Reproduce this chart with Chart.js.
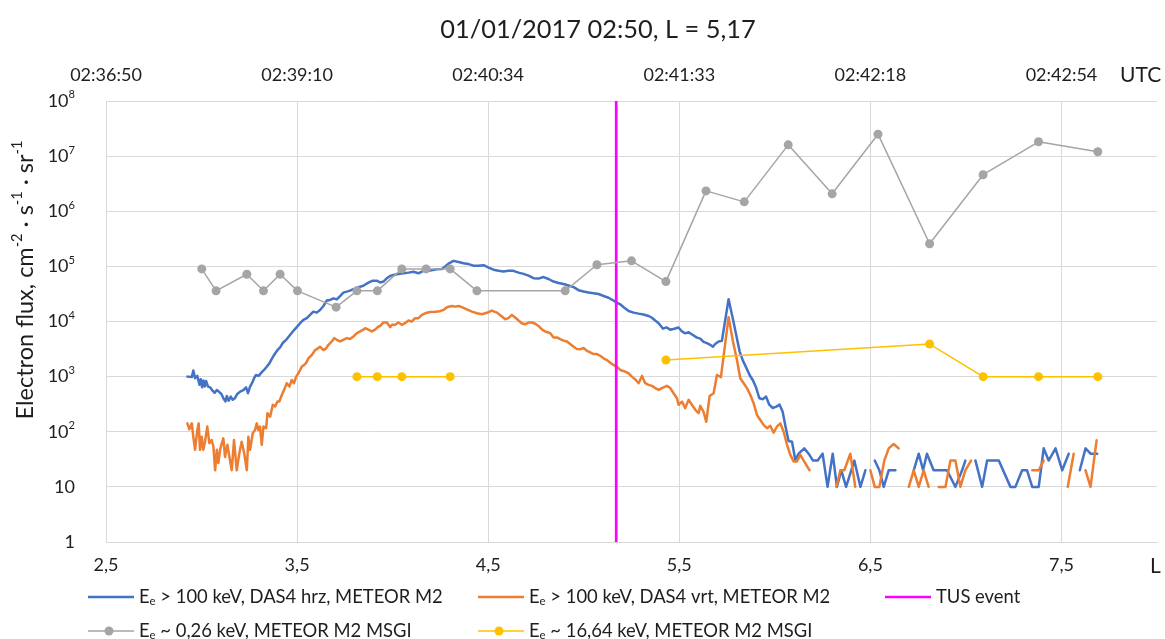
<!DOCTYPE html>
<html>
<head>
<meta charset="utf-8">
<script src="https://cdn.jsdelivr.net/npm/chart.js@4.4.1/dist/chart.umd.min.js"></script>
<style>
  html, body { margin: 0; padding: 0; background: #fff; }
  #wrap { width: 1165px; height: 639px; }
</style>
</head>
<body>
<div id="wrap"><canvas id="fluxChart" width="1165" height="639"></canvas></div>
<script>
// Electron flux along the METEOR M2 pass, 01/01/2017

const xTicks = [2.5, 3.5, 4.5, 5.5, 6.5, 7.5];
const topTimes = ['02:36:50', '02:39:10', '02:40:34', '02:41:33', '02:42:18', '02:42:54'];
const yTicks = [1, 10, 1e2, 1e3, 1e4, 1e5, 1e6, 1e7, 1e8];

// E > 100 keV, DAS4 horizontal
const blueL = [
    2.926, 2.949, 2.957, 2.966, 2.978, 2.989, 2.996, 3.003, 3.010, 3.017, 3.024, 3.034, 3.045, 3.055, 3.069, 3.080,
    3.090, 3.104, 3.114, 3.125, 3.132, 3.142, 3.153, 3.163, 3.174, 3.187, 3.202, 3.219, 3.233, 3.243, 3.254, 3.264,
    3.275, 3.285, 3.299, 3.313, 3.327, 3.341, 3.355, 3.369, 3.383, 3.397, 3.411, 3.425, 3.442, 3.463, 3.481, 3.498,
    3.516, 3.533, 3.551, 3.568, 3.585, 3.603, 3.620, 3.638, 3.655, 3.673, 3.690, 3.708, 3.725, 3.742, 3.760, 3.777,
    3.795, 3.821, 3.847, 3.873, 3.896, 3.917, 3.935, 3.952, 3.970, 3.987, 4.004, 4.030, 4.057, 4.083, 4.109, 4.135,
    4.161, 4.196, 4.231, 4.258, 4.275, 4.292, 4.319, 4.345, 4.371, 4.397, 4.423, 4.449, 4.476, 4.502, 4.528, 4.554,
    4.580, 4.606, 4.632, 4.659, 4.685, 4.711, 4.737, 4.763, 4.790, 4.816, 4.842, 4.868, 4.894, 4.920, 4.947, 4.973,
    4.999, 5.025, 5.051, 5.078, 5.104, 5.130, 5.156, 5.173, 5.191, 5.209, 5.235, 5.261, 5.287, 5.313, 5.339, 5.357,
    5.374, 5.392, 5.415, 5.432, 5.453, 5.474, 5.496, 5.514, 5.531, 5.549, 5.571, 5.593, 5.610, 5.627, 5.645, 5.662,
    5.676, 5.688, 5.706, 5.723, 5.758, 5.781, 5.798, 5.816, 5.833, 5.851, 5.868, 5.886, 5.903, 5.919, 5.938, 5.954,
    5.971, 5.988, 6.008, 6.025, 6.041, 6.058, 6.072, 6.090, 6.107, 6.125, 6.154, 6.177, 6.200, 6.224, 6.250, 6.276,
    6.303, 6.325, 6.348, 6.373, 6.416, 6.448, 6.474, 6.500, 6.523, 6.547, 6.570, 6.596, 6.631, 6.680, 6.727, 6.753,
    6.776, 6.796, 6.831, 6.901, 6.945, 6.980, 6.997, 7.030, 7.050, 7.085, 7.111, 7.172, 7.233, 7.259, 7.294, 7.320,
    7.347, 7.381, 7.407, 7.433, 7.469, 7.504, 7.538, 7.570, 7.596, 7.626, 7.652, 7.687
];
const blueFlux = [
    1000, 980, 1290, 940, 1030, 710, 900, 640, 850, 660, 830, 660, 640, 570, 510, 570,
    535, 485, 405, 355, 445, 365, 435, 380, 405, 485, 535, 570, 640, 500, 660, 760,
    935, 1070, 1030, 1180, 1320, 1510, 1740, 2150, 2570, 3020, 3390, 4070, 4630, 5700, 6800, 7900,
    9300, 10700, 11500, 13200, 15100, 14500, 16200, 19100, 24000, 24600, 26300, 25200, 29000, 33400, 34800, 36300,
    38600, 41800, 44500, 50700, 55000, 55000, 51000, 53000, 61000, 67000, 70000, 73000, 75000, 77000, 80000, 75000,
    83000, 84000, 89000, 90000, 100000, 112000, 126000, 120000, 114000, 110000, 103000, 103000, 105000, 95000, 87000, 83000,
    81000, 83000, 83000, 77000, 73000, 68000, 61000, 60000, 64000, 59000, 53000, 50000, 48000, 45000, 42000, 37000,
    35000, 33500, 32500, 31500, 29000, 27000, 24000, 22000, 20500, 18200, 15500, 14500, 13900, 13400, 12600, 11700,
    10400, 9300, 7400, 7800, 7100, 7400, 7800, 6600, 6100, 6400, 5700, 5100, 4900, 4270, 4050, 3780,
    3480, 3900, 4330, 4450, 25300, 11000, 5700, 2850, 1950, 1440, 1070, 850, 620, 405, 390, 435,
    310, 270, 285, 310, 230, 115, 68, 66, 31, 40, 50, 40, 30, 30, 40, 10,
    40, 10, 20, 10, 30, 10, 20, null, 30, 20, 10, 20, 20, null, 20, 40,
    20, 40, 20, 20, 10, 20, 30, null, 30, 10, 30, 30, 10, 10, 20, 20,
    10, 10, 50, 30, 50, 20, 40, null, 20, 50, 40, 40
];

// E > 100 keV, DAS4 vertical
const orangeL = [
    2.926, 2.936, 2.949, 2.957, 2.966, 2.978, 2.985, 2.992, 3.001, 3.009, 3.018, 3.030, 3.041, 3.053, 3.062, 3.071,
    3.080, 3.088, 3.097, 3.106, 3.114, 3.123, 3.135, 3.146, 3.158, 3.170, 3.184, 3.198, 3.210, 3.223, 3.237, 3.245,
    3.254, 3.268, 3.280, 3.289, 3.297, 3.306, 3.315, 3.324, 3.338, 3.345, 3.359, 3.373, 3.385, 3.397, 3.407, 3.420,
    3.432, 3.446, 3.460, 3.472, 3.484, 3.495, 3.507, 3.525, 3.537, 3.547, 3.559, 3.577, 3.594, 3.603, 3.620, 3.638,
    3.652, 3.664, 3.682, 3.694, 3.708, 3.725, 3.742, 3.760, 3.777, 3.795, 3.813, 3.830, 3.847, 3.856, 3.873, 3.891,
    3.908, 3.926, 3.935, 3.952, 3.970, 3.987, 3.996, 4.013, 4.030, 4.048, 4.065, 4.083, 4.100, 4.118, 4.135, 4.153,
    4.170, 4.196, 4.223, 4.249, 4.266, 4.284, 4.310, 4.327, 4.345, 4.362, 4.388, 4.415, 4.441, 4.467, 4.493, 4.519,
    4.546, 4.572, 4.589, 4.606, 4.624, 4.641, 4.659, 4.676, 4.694, 4.711, 4.729, 4.746, 4.763, 4.781, 4.798, 4.825,
    4.842, 4.860, 4.877, 4.894, 4.912, 4.929, 4.947, 4.964, 4.982, 4.999, 5.017, 5.034, 5.051, 5.069, 5.086, 5.104,
    5.121, 5.139, 5.156, 5.173, 5.191, 5.217, 5.235, 5.252, 5.270, 5.287, 5.305, 5.322, 5.339, 5.357, 5.374, 5.392,
    5.409, 5.435, 5.453, 5.470, 5.488, 5.496, 5.514, 5.531, 5.549, 5.566, 5.584, 5.601, 5.610, 5.627, 5.641, 5.659,
    5.680, 5.697, 5.718, 5.758, 5.781, 5.802, 5.819, 5.837, 5.854, 5.872, 5.889, 5.907, 5.924, 5.941, 5.959, 5.976,
    5.994, 6.011, 6.029, 6.046, 6.064, 6.081, 6.098, 6.116, 6.134, 6.151, 6.182, 6.250, 6.322, 6.343, 6.364, 6.395,
    6.421, 6.460, 6.500, 6.523, 6.547, 6.573, 6.596, 6.622, 6.648, 6.680, 6.701, 6.727, 6.753, 6.779, 6.805, 6.830,
    6.858, 6.893, 6.919, 6.945, 6.971, 6.997, 7.027, 7.200, 7.347, 7.381, 7.407, 7.450, 7.533, 7.564, 7.590, 7.626,
    7.652, 7.684
];
const orangeFlux = [
    142, 111, 142, 81, 47, 108, 142, 47, 81, 47, 66, 124, 62, 71, 54, 20,
    47, 27, 47, 62, 76, 35, 58, 35, 20, 71, 20, 41, 66, 41, 20, 81,
    47, 94, 108, 142, 108, 124, 58, 124, 116, 217, 188, 308, 287, 353, 353, 465,
    575, 760, 660, 870, 760, 1000, 1150, 1520, 1630, 1760, 2150, 2470, 3030, 3140, 3490, 3030,
    3260, 3780, 4350, 5000, 4660, 4350, 4660, 5000, 4800, 5350, 6150, 6600, 7100, 7550, 7100, 6600,
    7100, 8100, 8300, 9600, 9600, 7900, 8700, 8700, 9600, 8700, 9300, 10400, 10000, 11500, 11500, 13200,
    14100, 14900, 15100, 15400, 16200, 18200, 19100, 18600, 19100, 18200, 16600, 15100, 14100, 13500, 14400, 15800,
    14500, 12300, 11000, 11500, 13200, 11800, 10400, 9300, 8900, 9600, 9600, 9100, 8300, 7200, 6600, 6150,
    5150, 5150, 4800, 4500, 4350, 3900, 3490, 3170, 3140, 3300, 2930, 2740, 2570, 2570, 2390, 2150,
    2000, 1790, 1630, 1520, 1320, 1230, 1150, 1000, 890, 760, 1030, 760, 710, 680, 620, 575,
    620, 680, 620, 500, 405, 308, 353, 268, 380, 308, 250, 217, 295, 230, 152, 445,
    500, 1070, 980, 12000, 4350, 2000, 935, 760, 620, 465, 330, 200, 163, 133, 116, 128,
    96, 124, 142, 100, 58, 38, 29, 29, 38, 30, 20, null, 10, 20, 20, 40,
    10, null, 20, 10, 10, 30, 50, 60, 50, null, 10, 20, 10, 20, 10, null,
    10, 10, 30, 30, 10, 20, 30, null, 20, 20, 30, null, 10, 40, null, 20,
    10, 70
];

// MSGI channels
const msgiL = [
    3.001, 3.076, 3.237, 3.324, 3.411, 3.502, 3.704, 3.813, 3.920, 4.048, 4.175, 4.301, 4.441,
    4.903, 5.069, 5.250, 5.430, 5.640, 5.840, 6.070, 6.300, 6.540, 6.810, 7.090, 7.380, 7.690
];
const grayFlux = [
    90000, 36000, 72000, 36000, 72000, 36000, 18200, 36000, 36000, 90000, 90000, 90000, 36000,
    36000, 107000, 126000, 53000, 2340000, 1480000, 16000000, 2070000, 25000000, 257000, 4600000, 18200000, 12000000
];
const yellowL = [3.813, 3.920, 4.048, 4.301, 4.900, 5.430, 6.810, 7.090, 7.380, 7.690];
const yellowFlux = [1000, 1000, 1000, 1000, null, 2000, 3900, 1000, 1000, 1000];

const tusL = 5.17;

const FONT = 'Lato, "DejaVu Sans", sans-serif';
const TEXT = '#1e1e1e';
const GRID = '#d9d9d9';

const colors = {
    blue: '#4472C4',
    orange: '#ED7D31',
    tus: '#FF00FF',
    gray: '#A5A5A5',
    yellow: '#FFC000'
};

function pairs(xs, ys) {
    return xs.map((x, i) => ({ x: x, y: ys[i] }));
}

// text with super/subscripts: parts are [text, kind], kind 1 = sup, -1 = sub
function drawRich(ctx, parts, x, y, size, align) {
    const widths = parts.map(([t, k]) => {
        ctx.font = (k ? size * 0.62 : size) + 'px ' + FONT;
        return ctx.measureText(t).width;
    });
    const total = widths.reduce((a, b) => a + b, 0);
    let cx = align === 'right' ? x - total : align === 'center' ? x - total / 2 : x;
    ctx.textAlign = 'left';
    ctx.textBaseline = 'middle';
    parts.forEach(([t, k], i) => {
        ctx.font = (k ? size * 0.62 : size) + 'px ' + FONT;
        const dy = k === 1 ? -size * 0.34 : k === -1 ? size * 0.24 : 0;
        ctx.fillText(t, cx, y + dy);
        cx += widths[i];
    });
}

const legendItems = [
    { color: colors.blue, width: 2.5, dot: false, x: 88, y: 597, parts: [['E', 0], ['e', -1], [' > 100 keV, DAS4 hrz, METEOR M2', 0]] },
    { color: colors.orange, width: 2.5, dot: false, x: 478, y: 597, parts: [['E', 0], ['e', -1], [' > 100 keV, DAS4 vrt, METEOR M2', 0]] },
    { color: colors.tus, width: 2.5, dot: false, x: 885, y: 597, parts: [['TUS event', 0]] },
    { color: colors.gray, width: 1.5, dot: true, x: 88, y: 631, parts: [['E', 0], ['e', -1], [' ~ 0,26 keV, METEOR M2 MSGI', 0]] },
    { color: colors.yellow, width: 1.5, dot: true, x: 478, y: 631, parts: [['E', 0], ['e', -1], [' ~ 16,64 keV, METEOR M2 MSGI', 0]] }
];

const textPlugin = {
    id: 'textPlugin',
    afterDraw(chart) {
        const ctx = chart.ctx;
        const yScale = chart.scales.y;
        ctx.save();
        ctx.fillStyle = TEXT;

        // title
        drawRich(ctx, [['01/01/2017 02:50, L = 5,17', 0]], 598, 30, 25.4, 'center');

        // y tick labels with exponents
        yTicks.forEach(v => {
            const e = Math.round(Math.log10(v));
            const py = yScale.getPixelForValue(v);
            const parts = e === 0 ? [['1', 0]] : e === 1 ? [['10', 0]] : [['10', 0], [String(e), 1]];
            drawRich(ctx, parts, 75, py, 18, 'right');
        });

        // y axis title
        ctx.save();
        ctx.translate(25, 280);
        ctx.rotate(-Math.PI / 2);
        drawRich(ctx, [['Electron flux, cm', 0], ['-2', 1], [' \u00b7 s', 0], ['-1', 1], [' \u00b7 sr', 0], ['-1', 1]], 0, 0, 23.5, 'center');
        ctx.restore();

        // axis unit labels
        drawRich(ctx, [['UTC', 0]], 1120, 75, 21, 'left');
        drawRich(ctx, [['L', 0]], 1150, 566, 21, 'left');

        // legend
        legendItems.forEach(item => {
            ctx.strokeStyle = item.color;
            ctx.lineWidth = item.width;
            ctx.beginPath();
            ctx.moveTo(item.x, item.y);
            ctx.lineTo(item.x + 46, item.y);
            ctx.stroke();
            if (item.dot) {
                ctx.fillStyle = item.color;
                ctx.beginPath();
                ctx.arc(item.x + 21, item.y, 4.5, 0, Math.PI * 2);
                ctx.fill();
            }
            ctx.fillStyle = TEXT;
            drawRich(ctx, item.parts, item.x + 51, item.y, 18.4, 'left');
        });
        ctx.restore();
    }
};

const ctx = document.getElementById('fluxChart');

new Chart(ctx, {
    type: 'line',
    data: {
        datasets: [
            {
                label: 'E ~ 16,64 keV, METEOR M2 MSGI',
                data: pairs(yellowL, yellowFlux),
                borderColor: colors.yellow,
                backgroundColor: colors.yellow,
                borderWidth: 1.5,
                pointRadius: 4.5,
                pointBorderWidth: 0,
                order: 0
            },
            {
                label: 'E ~ 0,26 keV, METEOR M2 MSGI',
                data: pairs(msgiL, grayFlux),
                borderColor: colors.gray,
                backgroundColor: colors.gray,
                borderWidth: 1.5,
                pointRadius: 4.5,
                pointBorderWidth: 0,
                order: 1
            },
            {
                label: 'TUS event',
                data: [{ x: tusL, y: 1 }, { x: tusL, y: 1e8 }],
                borderColor: colors.tus,
                borderWidth: 2.7,
                pointRadius: 0,
                order: 2
            },
            {
                label: 'E > 100 keV, DAS4 vrt, METEOR M2',
                data: pairs(orangeL, orangeFlux),
                borderColor: colors.orange,
                borderWidth: 2.5,
                pointRadius: 0,
                order: 3
            },
            {
                label: 'E > 100 keV, DAS4 hrz, METEOR M2',
                data: pairs(blueL, blueFlux),
                borderColor: colors.blue,
                borderWidth: 2.5,
                pointRadius: 0,
                order: 4
            }
        ]
    },
    options: {
        responsive: false,
        animation: false,
        devicePixelRatio: 1,
        spanGaps: false,
        elements: {
            line: { tension: 0, borderJoinStyle: 'round', borderCapStyle: 'round' }
        },
        layout: { padding: { top: 0, right: 8, bottom: 0, left: 0 } },
        plugins: {
            legend: { display: false },
            title: { display: false },
            tooltip: { enabled: false }
        },
        scales: {
            x: {
                type: 'linear',
                position: 'bottom',
                min: 2.5,
                max: 8,
                afterBuildTicks: s => { s.ticks = xTicks.map(v => ({ value: v })); },
                afterFit: s => { s.height = 97; },
                ticks: {
                    padding: 12.5,
                    color: TEXT,
                    font: { family: FONT, size: 18 },
                    maxRotation: 0,
                    callback: v => v.toFixed(1).replace('.', ',')
                },
                grid: { color: GRID, drawTicks: false },
                border: { color: GRID }
            },
            xTop: {
                type: 'linear',
                position: 'top',
                min: 2.5,
                max: 8,
                afterBuildTicks: s => { s.ticks = xTicks.map(v => ({ value: v })); },
                afterFit: s => { s.height = 101; },
                ticks: {
                    padding: 15.5,
                    color: TEXT,
                    font: { family: FONT, size: 18 },
                    maxRotation: 0,
                    callback: (v, i) => topTimes[i]
                },
                grid: { display: false, drawTicks: false },
                border: { display: false }
            },
            y: {
                type: 'logarithmic',
                min: 1,
                max: 1e8,
                afterBuildTicks: s => { s.ticks = yTicks.map(v => ({ value: v })); },
                afterFit: s => { s.width = 106; },
                ticks: { display: false },
                grid: { color: GRID, drawTicks: false },
                border: { display: false }
            }
        }
    },
    plugins: [textPlugin]
});
</script>
</body>
</html>
